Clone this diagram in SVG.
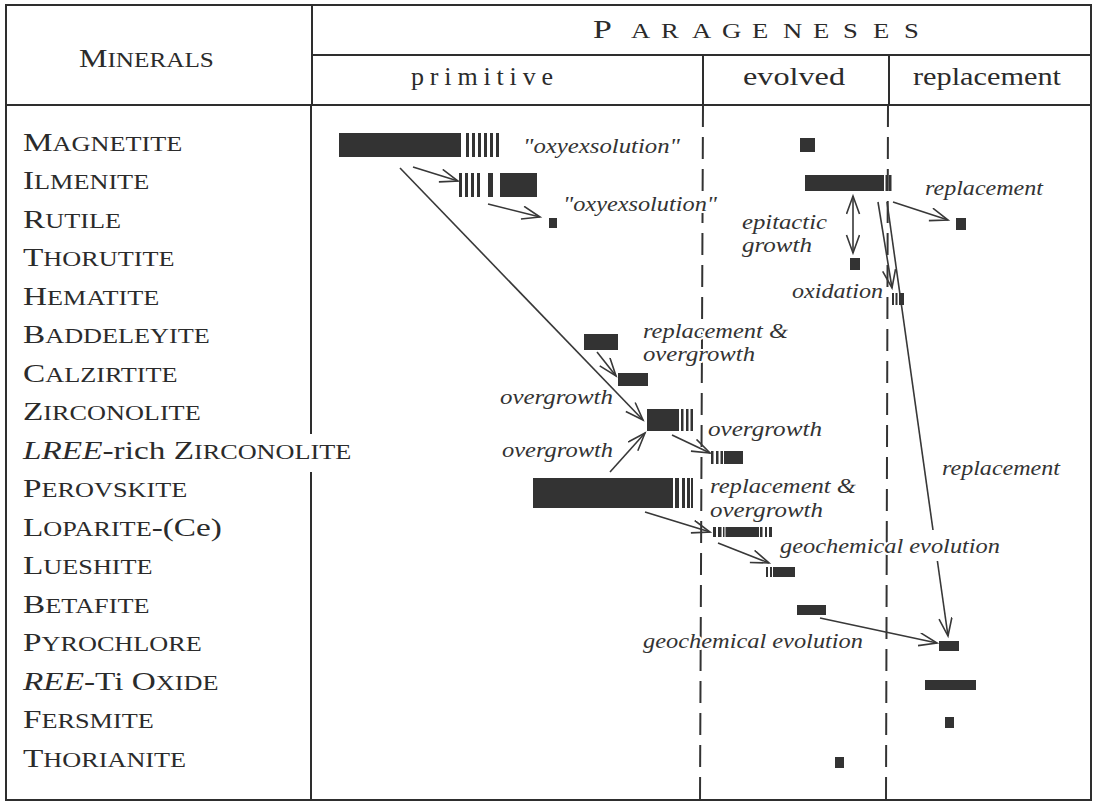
<svg xmlns="http://www.w3.org/2000/svg" width="1099" height="804" viewBox="0 0 1099 804">
<style>
  .frame{stroke:#2e2e2e;stroke-width:2;fill:none}
  .dash{stroke:#333;stroke-width:2;fill:none;stroke-dasharray:22 10}
  .bar{fill:#333}
  .ln{stroke:#383838;stroke-width:1.6;fill:none}
  .arr{stroke:#383838;stroke-width:1.6;fill:none;marker-end:url(#ah)}
  .min{font-family:"Liberation Serif",serif;font-size:26px;fill:#2b2b2b}
  .sc{font-size:20.5px}
  .hd{font-family:"Liberation Serif",serif;font-size:26px;fill:#2b2b2b}
  .lbl{font-family:"Liberation Serif",serif;font-style:italic;font-size:22px;fill:#333;stroke:#fff;stroke-width:4;paint-order:stroke;stroke-linejoin:round}
</style>
<defs>
  <marker id="ah" markerUnits="userSpaceOnUse" viewBox="0 0 22 16" markerWidth="22" markerHeight="16" refX="19" refY="7" orient="auto-start-reverse">
    <path d="M1,0.5 L19,7 L1,13.5" fill="none" stroke="#383838" stroke-width="1.6"/>
  </marker>
</defs>
<rect width="1099" height="804" fill="#fff"/>

<g id="table">
  <rect class="frame" x="6" y="5" width="1085" height="795"/>
  <line class="frame" x1="312" y1="5" x2="312" y2="105"/>
  <line class="frame" x1="312" y1="55" x2="1091" y2="55"/>
  <line class="frame" x1="6" y1="105" x2="1091" y2="105"/>
  <line class="frame" x1="703" y1="55" x2="703" y2="105"/>
  <line class="frame" x1="889" y1="55" x2="889" y2="105"/>
  <line class="frame" x1="311" y1="105" x2="311" y2="434"/>
  <line class="frame" x1="311" y1="472" x2="311" y2="800"/>
  <line class="dash" x1="703" y1="105" x2="700" y2="800"/>
  <line class="dash" x1="888" y1="105" x2="886" y2="800"/>
</g>

<g id="header">
  <text class="hd" transform="matrix(1.23 0 0 1 79 0)" x="0" y="67">M<tspan class="sc">INERALS</tspan></text>
  <text class="hd" transform="matrix(1.3 0 0 1 0 0)" y="38"><tspan x="456.2">P</tspan><tspan class="sc" x="485.4 508.5 532.3 555.4 578.5 602.3 625.4 648.5 671.5 695.4">ARAGENESES</tspan></text>
  <text class="hd" x="411" y="85" textLength="142" lengthAdjust="spacing">primitive</text>
  <text class="hd" x="743" y="85" textLength="102" lengthAdjust="spacingAndGlyphs">evolved</text>
  <text class="hd" x="913" y="85" textLength="148" lengthAdjust="spacingAndGlyphs">replacement</text>
</g>

<g id="mineral-labels" transform="matrix(1.28 0 0 1 23 0)">
  <text class="min" x="0" y="151">M<tspan class="sc">AGNETITE</tspan></text>
  <text class="min" x="0" y="189.5">I<tspan class="sc">LMENITE</tspan></text>
  <text class="min" x="0" y="228">R<tspan class="sc">UTILE</tspan></text>
  <text class="min" x="0" y="266.5">T<tspan class="sc">HORUTITE</tspan></text>
  <text class="min" x="0" y="305">H<tspan class="sc">EMATITE</tspan></text>
  <text class="min" x="0" y="343.5">B<tspan class="sc">ADDELEYITE</tspan></text>
  <text class="min" x="0" y="382">C<tspan class="sc">ALZIRTITE</tspan></text>
  <text class="min" x="0" y="420.5">Z<tspan class="sc">IRCONOLITE</tspan></text>
  <text class="min" x="0" y="459"><tspan font-style="italic">LREE</tspan>-rich Z<tspan class="sc">IRCONOLITE</tspan></text>
  <text class="min" x="0" y="497.5">P<tspan class="sc">EROVSKITE</tspan></text>
  <text class="min" x="0" y="536">L<tspan class="sc">OPARITE</tspan>-(Ce)</text>
  <text class="min" x="0" y="574.5">L<tspan class="sc">UESHITE</tspan></text>
  <text class="min" x="0" y="613">B<tspan class="sc">ETAFITE</tspan></text>
  <text class="min" x="0" y="651.5">P<tspan class="sc">YROCHLORE</tspan></text>
  <text class="min" x="0" y="690"><tspan font-style="italic">REE</tspan>-Ti O<tspan class="sc">XIDE</tspan></text>
  <text class="min" x="0" y="728.5">F<tspan class="sc">ERSMITE</tspan></text>
  <text class="min" x="0" y="767">T<tspan class="sc">HORIANITE</tspan></text>
</g>

<g id="connectors">
  <line class="arr" x1="413" y1="167" x2="458" y2="181"/>
  <line class="arr" x1="400" y1="168" x2="643" y2="420"/>
  <line class="arr" x1="488" y1="204" x2="540" y2="217"/>
  <line class="arr" x1="597" y1="352" x2="616" y2="376"/>
  <line class="arr" x1="610" y1="472" x2="645" y2="433"/>
  <line class="arr" x1="672" y1="435" x2="710" y2="453"/>
  <line class="arr" x1="645" y1="512" x2="710" y2="532"/>
  <line class="arr" x1="718" y1="543" x2="769" y2="563"/>
  <line class="arr" x1="820" y1="618" x2="937" y2="643"/>
  <line class="arr" x1="853" y1="196" x2="853" y2="253" marker-start="url(#ah)"/>
  <line class="arr" x1="878" y1="202" x2="892" y2="288"/>
  <line class="arr" x1="893" y1="202" x2="948" y2="220"/>
  <line class="ln" x1="887" y1="202" x2="933" y2="530"/>
  <line class="arr" x1="937.4" y1="561" x2="948" y2="636"/>
</g>

<g id="labels">
  <text class="lbl" x="523" y="153" textLength="157" lengthAdjust="spacingAndGlyphs">"oxyexsolution"</text>
  <text class="lbl" x="563" y="211" textLength="154" lengthAdjust="spacingAndGlyphs">"oxyexsolution"</text>
  <text class="lbl" x="925" y="195" textLength="118" lengthAdjust="spacingAndGlyphs">replacement</text>
  <text class="lbl" x="742" y="229" textLength="85" lengthAdjust="spacingAndGlyphs">epitactic</text>
  <text class="lbl" x="742" y="252" textLength="70" lengthAdjust="spacingAndGlyphs">growth</text>
  <text class="lbl" x="792" y="298" textLength="91" lengthAdjust="spacingAndGlyphs">oxidation</text>
  <text class="lbl" x="643" y="338" textLength="145" lengthAdjust="spacingAndGlyphs">replacement &amp;</text>
  <text class="lbl" x="643" y="361" textLength="112" lengthAdjust="spacingAndGlyphs">overgrowth</text>
  <text class="lbl" x="500" y="404" textLength="113" lengthAdjust="spacingAndGlyphs">overgrowth</text>
  <text class="lbl" x="708" y="436" textLength="114" lengthAdjust="spacingAndGlyphs">overgrowth</text>
  <text class="lbl" x="502" y="457" textLength="111" lengthAdjust="spacingAndGlyphs">overgrowth</text>
  <text class="lbl" x="942" y="475" textLength="118" lengthAdjust="spacingAndGlyphs">replacement</text>
  <text class="lbl" x="710" y="493" textLength="146" lengthAdjust="spacingAndGlyphs">replacement &amp;</text>
  <text class="lbl" x="710" y="517" textLength="113" lengthAdjust="spacingAndGlyphs">overgrowth</text>
  <text class="lbl" x="780" y="553" textLength="220" lengthAdjust="spacingAndGlyphs">geochemical evolution</text>
  <text class="lbl" x="643" y="648" textLength="220" lengthAdjust="spacingAndGlyphs">geochemical evolution</text>
</g>

<g id="magnetite-primitive" class="bar">
  <rect x="339" y="133" width="122" height="24"/>
  <rect x="466" y="133" width="3" height="24"/><rect x="472" y="133" width="3" height="24"/>
  <rect x="478" y="133" width="3" height="24"/><rect x="484" y="133" width="3" height="24"/>
  <rect x="490" y="133" width="3" height="24"/><rect x="496" y="133" width="3" height="24"/>
</g>
<g id="ilmenite-primitive" class="bar">
  <rect x="459" y="173" width="3" height="24"/><rect x="465" y="173" width="3" height="24"/>
  <rect x="471" y="173" width="3" height="24"/><rect x="477" y="173" width="3" height="24"/>
  <rect x="488" y="173" width="5" height="24"/>
  <rect x="500" y="173" width="37" height="24"/>
</g>
<g id="rutile-primitive" class="bar"><rect x="549" y="218" width="8" height="10"/></g>
<g id="magnetite-evolved" class="bar"><rect x="800" y="138" width="15" height="14"/></g>
<g id="ilmenite-evolved" class="bar">
  <rect x="805" y="175" width="79" height="16"/>
  <rect x="885.5" y="175" width="2" height="16"/><rect x="889" y="175" width="2.5" height="16"/>
</g>
<g id="thorutite" class="bar"><rect x="850" y="258" width="10" height="12"/></g>
<g id="hematite" class="bar">
  <rect x="892" y="293" width="2" height="12"/><rect x="895.5" y="293" width="2" height="12"/>
  <rect x="899" y="293" width="5" height="12"/>
</g>
<g id="rutile-replacement" class="bar"><rect x="956" y="218" width="10" height="12"/></g>
<g id="baddeleyite" class="bar"><rect x="584" y="334" width="34" height="16"/></g>
<g id="calzirtite" class="bar"><rect x="618" y="373" width="30" height="13"/></g>
<g id="zirconolite" class="bar">
  <rect x="647" y="409" width="32" height="22"/>
  <rect x="681" y="409" width="2.5" height="22"/><rect x="686" y="409" width="2.5" height="22"/>
  <rect x="690.5" y="409" width="2.5" height="22"/>
</g>
<g id="lree-zirconolite" class="bar">
  <rect x="711" y="451" width="2.5" height="13"/><rect x="716" y="451" width="2.5" height="13"/>
  <rect x="720.5" y="451" width="2.5" height="13"/>
  <rect x="724" y="451" width="19" height="13"/>
</g>
<g id="perovskite" class="bar">
  <rect x="533" y="478" width="140" height="30"/>
  <rect x="675" y="478" width="4" height="30"/><rect x="682" y="478" width="3" height="30"/>
  <rect x="687" y="478" width="3" height="30"/><rect x="691" y="478" width="2" height="30"/>
</g>
<g id="loparite" class="bar">
  <rect x="713" y="527" width="3" height="10"/><rect x="718" y="527" width="3.5" height="10"/>
  <rect x="723" y="527" width="1.5" height="10"/>
  <rect x="725.5" y="527" width="33.5" height="10"/>
  <rect x="760" y="527" width="2.5" height="10"/><rect x="765" y="527" width="2" height="10"/>
  <rect x="769" y="527" width="3" height="10"/>
</g>
<g id="lueshite" class="bar">
  <rect x="766" y="567" width="2" height="10"/><rect x="770" y="567" width="2" height="10"/>
  <rect x="773" y="567" width="22" height="10"/>
</g>
<g id="betafite" class="bar"><rect x="797" y="605" width="29" height="10"/></g>
<g id="pyrochlore" class="bar"><rect x="939" y="641" width="20" height="10"/></g>
<g id="ree-ti-oxide" class="bar"><rect x="925" y="680" width="51" height="10"/></g>
<g id="fersmite" class="bar"><rect x="945" y="717" width="9" height="11"/></g>
<g id="thorianite" class="bar"><rect x="835" y="757" width="9" height="11"/></g>
</svg>
